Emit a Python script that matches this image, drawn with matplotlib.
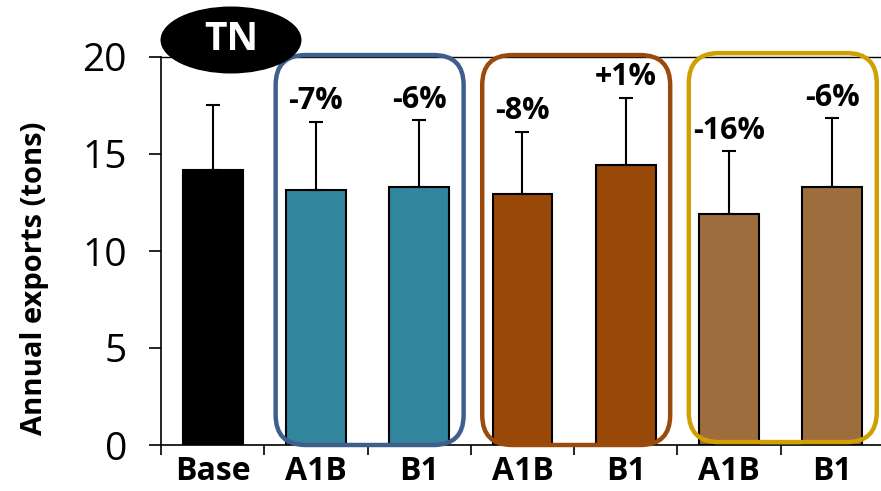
import matplotlib.pyplot as plt
from matplotlib.patches import Ellipse, FancyBboxPatch
from matplotlib.transforms import IdentityTransform

plt.rcParams['font.family'] = ['Open Sans', 'DejaVu Sans']

# annual TN exports, base run and two scenarios per climate model
labels = ['Base', 'A1B', 'B1', 'A1B', 'B1', 'A1B', 'B1']
means = [14.2, 13.15, 13.3, 12.95, 14.45, 11.9, 13.3]
errs = [3.3, 3.5, 3.45, 3.2, 3.45, 3.25, 3.55]
changes = ['', '-7%', '-6%', '-8%', '+1%', '-16%', '-6%']
colors = ['#000000', '#31859C', '#31859C', '#984807', '#984807', '#9E6D3E', '#9E6D3E']

# model groups: (first bar, last bar, outline colour)
groups = [(1, 2, '#3E5F8C'), (3, 4, '#9A4A0C'), (5, 6, '#D09F00')]

fig = plt.figure(figsize=(8.81, 4.91), dpi=100)
ax = fig.add_axes([161/881, 46/491, 723/881, 388/491])

x = range(len(means))
ax.bar(x, means, width=0.58, color=colors, edgecolor='black', linewidth=1.5, zorder=3)
ax.errorbar(x, means, yerr=[[0]*len(errs), errs], fmt='none', ecolor='black',
            elinewidth=1.5, capsize=5, capthick=1.5, zorder=4)

for i, txt in enumerate(changes):
    if txt:
        ax.annotate(txt, (i, means[i] + errs[i]), xytext=(0, 9), textcoords='offset points',
                    ha='center', va='baseline', fontsize=22, fontweight='bold', zorder=6)

ax.set_xlim(-0.5, 6.5)
ax.set_ylim(0, 20)
ax.set_yticks([0, 5, 10, 15, 20])
ax.tick_params(axis='y', direction='out', length=8.5, width=1.2, pad=16, labelsize=28)
ax.set_xticks([i + 0.5 for i in range(-1, 7)])
ax.set_xticklabels([])
ax.tick_params(axis='x', which='major', direction='out', length=7, width=1.2)
ax.set_xticks(list(x), minor=True)
ax.set_xticklabels(labels, minor=True, fontsize=23, fontweight='bold')
ax.tick_params(axis='x', which='minor', length=0, pad=7)
ax.set_ylabel('Annual exports (tons)', fontsize=21, fontweight='bold', labelpad=24)
ax.yaxis.label.set_y(0.43)

ax.spines['right'].set_visible(False)
for s in ['left', 'bottom']:
    ax.spines[s].set_linewidth(1.2)
ax.spines['top'].set_linewidth(1.0)

# rounded outlines around each model's bars, in pixel space so corners stay round
fig.canvas.draw()
for first, last, col in groups:
    top = 20.1 if col != '#D09F00' else 20.2
    bot = 0.0 if col != '#D09F00' else 0.15
    (x0, y0) = ax.transData.transform((first - 0.39, bot))
    (x1, y1) = ax.transData.transform((last + 0.43, top))
    box = FancyBboxPatch((x0, y0), x1 - x0, y1 - y0,
                         boxstyle='round,pad=0,rounding_size=30',
                         transform=IdentityTransform(), fill=False,
                         edgecolor=col, linewidth=3.2, zorder=5)
    fig.patches.append(box)

# nutrient tag above the base bar
tag = Ellipse((231/881, 1 - 40/491), 141/881, 67/491, transform=fig.transFigure,
              facecolor='black', edgecolor='none', zorder=10)
fig.patches.append(tag)
fig.text(231/881, 1 - 40/491, 'TN', color='white', fontsize=28, fontweight='bold',
         ha='center', va='center', zorder=11)

fig.savefig('out.png', dpi=100)
